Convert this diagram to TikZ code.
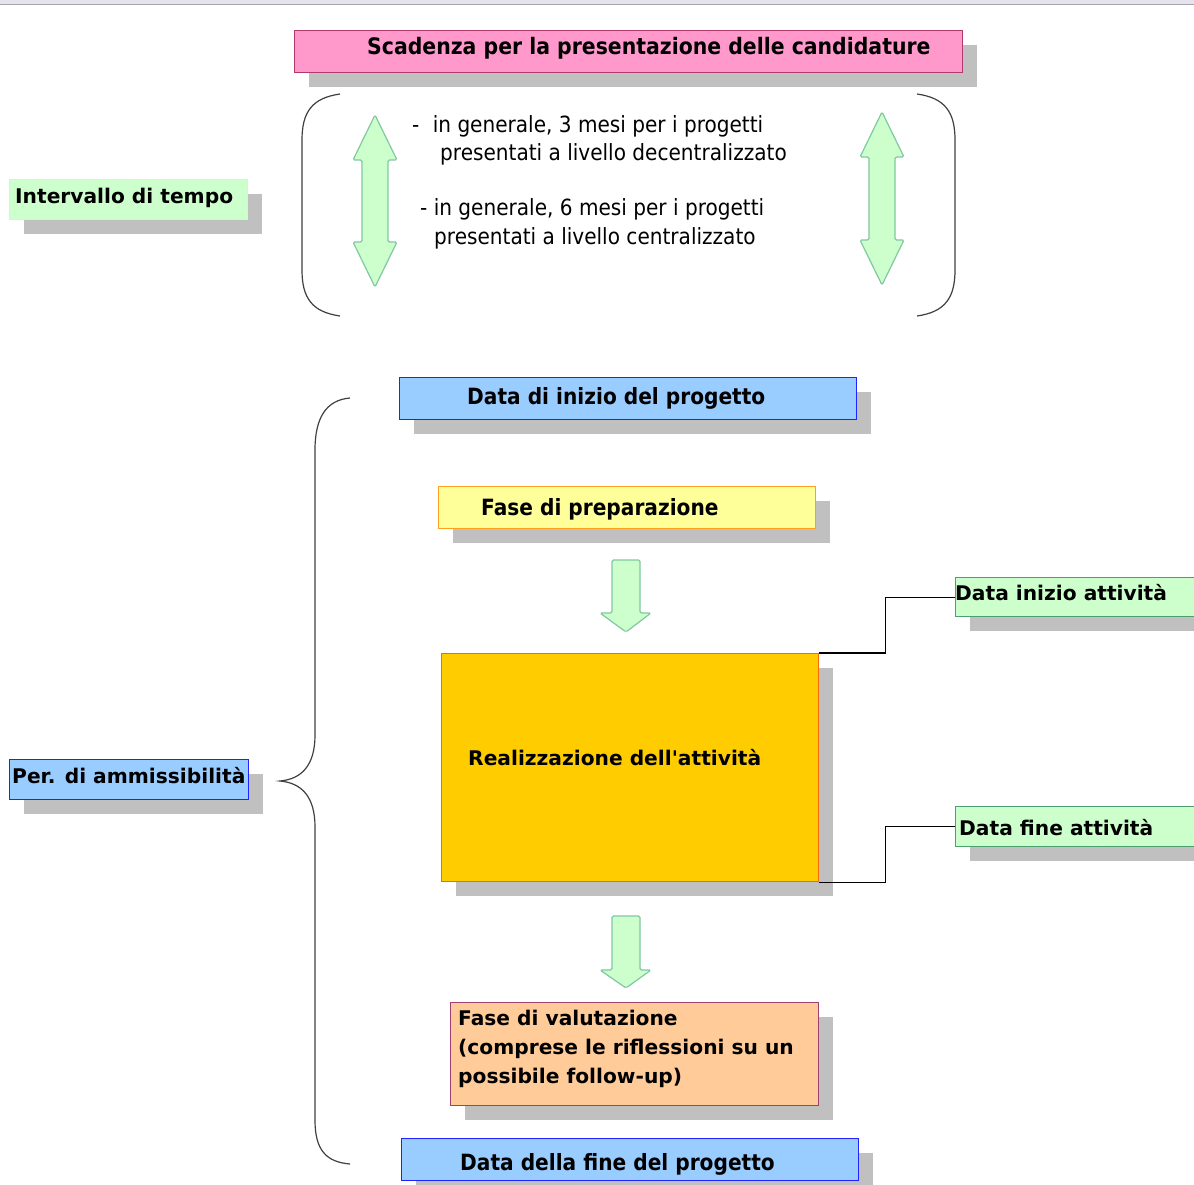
\documentclass[tikz,border=0pt]{standalone}
\usepackage{fontspec}
\setmainfont{DejaVu Sans}
\newfontfamily\narrowfont{DejaVu Sans}[FakeStretch=0.9]
\newfontfamily\plainfont{DejaVu Sans}[Ligatures=TeXOff]
\usetikzlibrary{shadows}
\definecolor{pinkf}{HTML}{FF99CC}
\definecolor{pinkd}{HTML}{B03A6A}
\definecolor{greenf}{HTML}{CCFFCC}
\definecolor{greend}{HTML}{4CA070}
\definecolor{cyand}{HTML}{C8F4F8}
\definecolor{bluef}{HTML}{99CCFF}
\definecolor{blued}{HTML}{2222FF}
\definecolor{yellowf}{HTML}{FFFF99}
\definecolor{yellowd}{HTML}{FFA020}
\definecolor{goldf}{HTML}{FFCC00}
\definecolor{goldd}{HTML}{FF6600}
\definecolor{peachf}{HTML}{FFCC99}
\definecolor{peachd}{HTML}{A04070}
\definecolor{shadowc}{HTML}{C0C0C0}
\definecolor{arrowd}{HTML}{80C8A0}
\definecolor{chrome}{HTML}{E6E2EE}
\tikzset{
  bx/.style={draw, line width=1.2pt, anchor=north west, inner sep=0pt,
    general shadow={fill=shadowc, shadow xshift=14pt, shadow yshift=-14pt}},
  tx/.style={anchor=base west, inner sep=0pt, text=black},
  vb/.style={font=\fontsize{20.2}{24}\selectfont\bfseries},
  tb/.style={font=\fontsize{22.4}{26}\narrowfont\bfseries},
  thin/.style={font=\fontsize{22.3}{26}\narrowfont},
  blockarrow/.style={fill=greenf, draw=arrowd, line width=1.2pt, rounded corners=1.5pt},
  bracket/.style={draw=black!75, line width=1.2pt},
  conn/.style={draw=black, line width=1.2pt}
}
\begin{document}
\begin{tikzpicture}[x=1pt, y=-1pt]
\useasboundingbox (0,0) rectangle (1194,1185);
\fill[white] (0,0) rectangle (1194,1185);
% window chrome line at top
\fill[chrome] (0,0) rectangle (1194,4);
\draw[black!35, line width=1pt] (0,4.5) -- (1194,4.5);

% boxes
\node[bx, fill=pinkf, draw=pinkd, minimum width=668pt, minimum height=42pt] (scad) at (294,30) {};
\node[tx, font=\fontsize{22.7}{27}\narrowfont\bfseries] (scadt) at (367,55) {Scadenza per la presentazione delle candidature};

\node[bx, fill=greenf, draw=cyand, minimum width=238pt, minimum height=40pt] (interv) at (9,179) {};
\node[tx, vb] (intervt) at (15,204) {Intervallo di tempo};

\node[bx, fill=bluef, draw=blued, minimum width=457pt, minimum height=42pt] (dinizio) at (399,377) {};
\node[tx, tb] (diniziot) at (467,404) {Data di inizio del progetto};

\node[bx, fill=yellowf, draw=yellowd, minimum width=377pt, minimum height=42pt] (prep) at (438,486) {};
\node[tx, tb] (prept) at (481,515) {Fase di preparazione};

\node[bx, fill=goldf, draw=goldd, minimum width=377pt, minimum height=228pt] (real) at (441,653) {};
\node[tx, font=\fontsize{20.2}{24}\plainfont\bfseries] (realt) at (468,765) {Realizzazione dell'attivit\`a};

\node[bx, fill=greenf, draw=greend, minimum width=250pt, minimum height=39pt] (dia) at (955,577) {};
\node[tx, vb] (diat) at (955,600) {Data inizio attivit\`a};

\node[bx, fill=greenf, draw=greend, minimum width=250pt, minimum height=40pt] (dfa) at (955,806) {};
\node[tx, vb] (dfat) at (959,835) {Data fine attivit\`a};

\node[bx, fill=bluef, draw=blued, minimum width=239pt, minimum height=40pt] (amm) at (9,759) {};
\node[tx, vb] (ammt) at (12,783) {Per. di ammissibilit\`a};

\node[bx, fill=peachf, draw=peachd, minimum width=368pt, minimum height=103pt] (valut) at (450,1002) {};
\node[anchor=north west, inner sep=0pt, align=left, font=\fontsize{20.2}{29}\selectfont\bfseries] (valutt) at (458,1010) {Fase di valutazione\\(comprese le riflessioni su un\\possibile follow-up)};

\node[bx, fill=bluef, draw=blued, minimum width=457pt, minimum height=42pt] (dfine) at (401,1138) {};
\node[tx, tb] (dfinet) at (460,1170) {Data della fine del progetto};

% bracket text
\node[tx, thin] (l1) at (412,133) {-\hspace{0.6em}in generale, 3 mesi per i progetti};
\node[tx, thin] (l2) at (440,161) {presentati a livello decentralizzato};
\node[tx, thin] (l3) at (420,215) {- in generale, 6 mesi per i progetti};
\node[tx, thin] (l4) at (434,244) {presentati a livello centralizzato};

% round brackets
\draw[bracket] (340,94) .. controls (312,98) and (302,112) .. (302,140) -- (302,270) .. controls (302,298) and (312,312) .. (340,316);
\draw[bracket] (917,94) .. controls (945,98) and (955,112) .. (955,140) -- (955,270) .. controls (955,298) and (945,312) .. (917,316);

% double arrows
\draw[blockarrow] (375,115) -- (397,160) -- (388,160) -- (388,242) -- (397,242) -- (375,287) -- (353,242) -- (362,242) -- (362,160) -- (353,160) -- cycle;
\draw[blockarrow] (882,112) -- (904,157) -- (895,157) -- (895,240) -- (904,240) -- (882,285) -- (860,240) -- (869,240) -- (869,157) -- (860,157) -- cycle;

% down arrows
\draw[blockarrow] (612,560) -- (640,560) -- (640,613) -- (651,613) -- (626,632) -- (600,613) -- (612,613) -- cycle;
\draw[blockarrow] (612,916) -- (640,916) -- (640,970) -- (651,970) -- (626,988) -- (600,970) -- (612,970) -- cycle;

% curly brace
\draw[bracket] (350,398) .. controls (326,400) and (315,418) .. (315,450) -- (315,735) .. controls (315,765) and (302,779) .. (280,781) .. controls (302,783) and (315,797) .. (315,827) -- (315,1120) .. controls (315,1150) and (326,1162) .. (350,1164);

% connectors
\draw[conn] (real.north east) -- ([xshift=66pt]real.north east) |- (dia.west);
\draw[conn] (real.south east) -- ([xshift=66pt]real.south east) |- (dfa.west);
\end{tikzpicture}
\end{document}
